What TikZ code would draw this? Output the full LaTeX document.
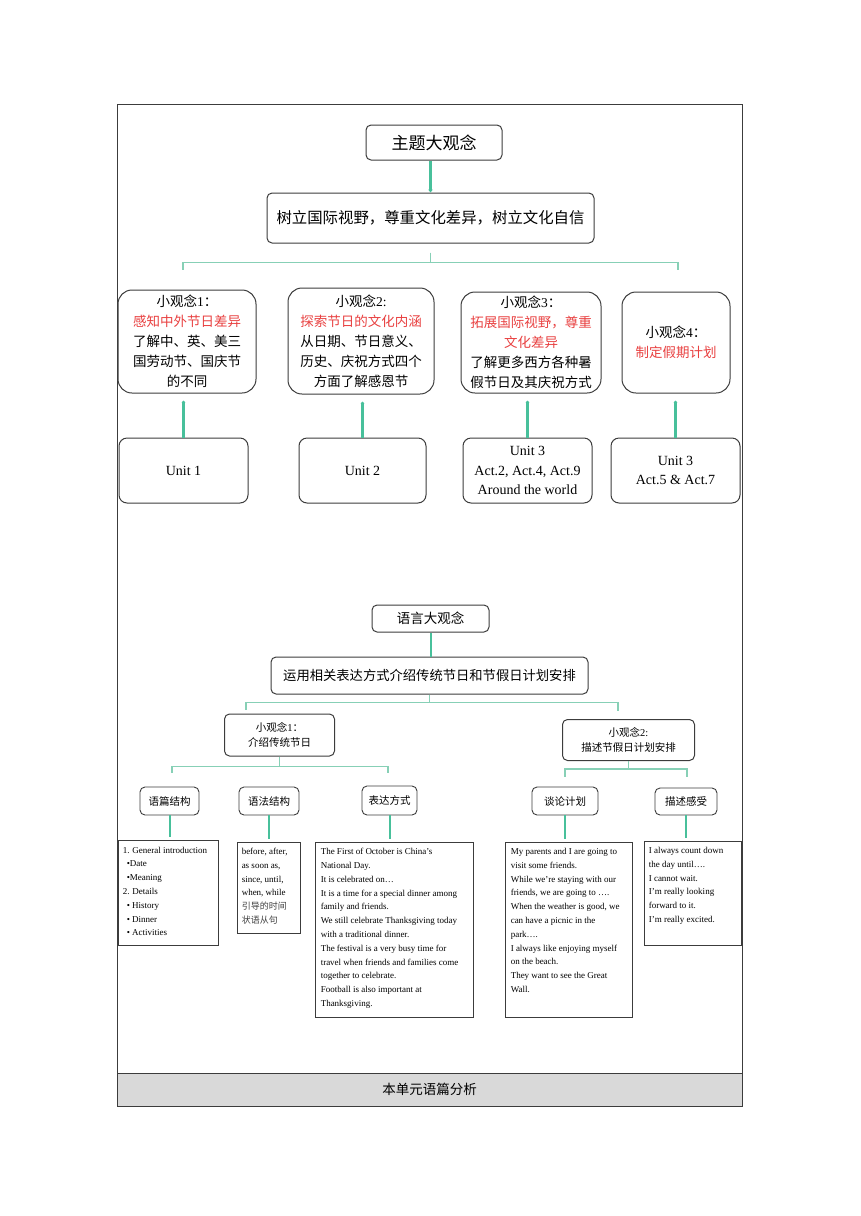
\documentclass[tikz,border=0pt]{standalone}
\usepackage{fontspec}
\setmainfont{Liberation Serif}
\newfontfamily\cjk{Noto Sans CJK SC}
\definecolor{lkgreen}{RGB}{72,192,155}
\definecolor{brgreen}{RGB}{135,208,182}
\definecolor{hlred}{RGB}{232,64,64}
\definecolor{bandgray}{RGB}{217,217,217}
\definecolor{lineblk}{RGB}{60,60,60}
\newcommand{\redtxt}[1]{\textcolor{hlred}{#1}}
\newcommand{\lat}[1]{{\rmfamily #1}}
\usetikzlibrary{arrows.meta,positioning}

\begin{document}
\begin{tikzpicture}[x=1pt,y=-1pt,
  headbox/.style={draw=lineblk, line width=1pt, rounded corners=5pt, align=center, inner sep=0pt},
  ideabox/.style={draw=lineblk, line width=1pt, rounded corners=14pt, align=center, inner sep=0pt, font=\cjk\fontsize{13.5}{20}\selectfont},
  unitbox/.style={draw=lineblk, line width=1pt, rounded corners=8pt, align=center, inner sep=0pt, font=\fontsize{14}{19.5}\selectfont},
  tagbox/.style={draw=lineblk, line width=0.9pt, rounded corners=5pt, align=center, inner sep=0pt, font=\cjk\fontsize{10.5}{14}\selectfont},
  txtbox/.style={draw=lineblk, line width=0.9pt, inner sep=0pt},
  txt/.style={anchor=north west, align=left, inner sep=0pt, font=\fontsize{9}{13.8}\selectfont},
  link/.style={draw=lkgreen, line width=2.2pt},
  brace/.style={draw=brgreen, line width=1.2pt}
]
  \useasboundingbox (0,0) rectangle (860,1216);

  %% frame and caption band
  \draw[lineblk, line width=1pt] (117,104) rectangle (742,1106);
  \node[draw=lineblk, line width=1pt, fill=bandgray, minimum width=625, minimum height=33, inner sep=0pt, font=\cjk\fontsize{13.5}{16}\selectfont] (band) at (429.5,1089.5) {本单元语篇分析};

  %% theme part
  \node[headbox, minimum width=136, minimum height=35, font=\cjk\fontsize{17}{20}\selectfont] (theme) at (434,142.5) {主题大观念};
  \node[headbox, minimum width=327, minimum height=50, font=\cjk\fontsize{15.4}{20}\selectfont] (aim) at (430.5,218) {树立国际视野，尊重文化差异，树立文化自信};
  \draw[link, -{Triangle[length=3pt,width=4.5pt]}] (aim.north |- theme.south) -- (aim.north);

  \node[ideabox, minimum width=138, minimum height=103] (i1) at (187,341.5)
    {小观念\lat{1}：\\ \redtxt{感知中外节日差异}\\ 了解中、英、美三\\ 国劳动节、国庆节\\ 的不同};
  \node[ideabox, minimum width=146, minimum height=106] (i2) at (361,341)
    {小观念\lat{2:}\\ \redtxt{探索节日的文化内涵}\\ 从日期、节日意义、\\ 历史、庆祝方式四个\\ 方面了解感恩节};
  \node[ideabox, minimum width=140, minimum height=101] (i3) at (531,342.5)
    {小观念\lat{3}：\\ \redtxt{拓展国际视野，尊重}\\ \redtxt{文化差异}\\ 了解更多西方各种暑\\ 假节日及其庆祝方式};
  \node[ideabox, minimum width=108, minimum height=101] (i4) at (676,342.5)
    {小观念\lat{4}：\\ \redtxt{制定假期计划}};

  \coordinate (t1) at (183,270);
  \coordinate (t4) at (678,270);
  \draw[brace] ([yshift=-9pt]aim.south) -- ++(0,10) -| (t1);
  \draw[brace] ([yshift=-9pt]aim.south) -- ++(0,10) -| (t4);

  \node[unitbox, minimum width=129, minimum height=65] (u1) at (183.5,470.5) {Unit 1};
  \node[unitbox, minimum width=127, minimum height=65] (u2) at (362.5,470.5) {Unit 2};
  \node[unitbox, minimum width=129, minimum height=65] (u3) at (527.5,470.5) {Unit 3\\ Act.2, Act.4, Act.9\\ Around the world};
  \node[unitbox, minimum width=129, minimum height=65] (u4) at (675.5,470.5) {Unit 3\\ Act.5 \& Act.7};

  \foreach \u/\i in {u1/i1, u2/i2, u3/i3, u4/i4}
    \draw[link, shorten >=7pt, -{Triangle[length=2pt,width=3.5pt]}] (\u.north) -- (\u.north |- \i.south);

  %% language part
  \node[headbox, minimum width=117, minimum height=27, font=\cjk\fontsize{13.5}{16}\selectfont] (lang) at (430.5,618.5) {语言大观念};
  \node[headbox, minimum width=317, minimum height=37, font=\cjk\fontsize{13.3}{16}\selectfont] (use) at (429.5,675.5) {运用相关表达方式介绍传统节日和节假日计划安排};
  \draw[link, line width=2pt] (lang.south) -- (lang.south |- use.north);

  \node[headbox, minimum width=110, minimum height=42, font=\cjk\fontsize{10.5}{15}\selectfont] (pc1) at (279.5,735) {小观念\lat{1}：\\ 介绍传统节日};
  \node[headbox, minimum width=132, minimum height=41, font=\cjk\fontsize{10.5}{15}\selectfont] (pc2) at (628.5,740) {小观念\lat{2:}\\ 描述节假日计划安排};

  \coordinate (l1) at (246,710);
  \coordinate (l2) at (618,711);
  \draw[brace] (use.south) -- ++(0,8) -| (l1);
  \draw[brace] (use.south) -- ++(0,8) -| (l2);

  \coordinate (m1) at (172,773);
  \coordinate (m2) at (388,773);
  \coordinate (n1) at (565,777);
  \coordinate (n2) at (687,777);
  \draw[brace] (pc1.south) -- ++(0,10) -| (m1);
  \draw[brace] (pc1.south) -- ++(0,10) -| (m2);
  \draw[brace] (pc2.south) -- ++(0,8) -| (n1);
  \draw[brace] (pc2.south) -- ++(0,8) -| (n2);

  \node[tagbox, minimum width=59, minimum height=28] (k1) at (169.5,801) {语篇结构};
  \node[tagbox, minimum width=60, minimum height=28] (k2) at (269,801) {语法结构};
  \node[tagbox, minimum width=55, minimum height=29] (k3) at (389.5,800.5) {表达方式};
  \node[tagbox, minimum width=66, minimum height=28] (k4) at (565,801) {谈论计划};
  \node[tagbox, minimum width=62, minimum height=27] (k5) at (686,801.5) {描述感受};

  \node[txtbox, minimum width=100, minimum height=105] (ta) at (168,892.5) {};
  \node[txtbox, minimum width=63, minimum height=91] (tb) at (268.5,887.5) {};
  \node[txtbox, minimum width=158, minimum height=175] (tc) at (394,929.5) {};
  \node[txtbox, minimum width=127, minimum height=175] (td) at (568.5,929.5) {};
  \node[txtbox, minimum width=97, minimum height=104] (te) at (692.5,893) {};

  \foreach \k/\t in {k1/ta, k2/tb, k3/tc, k4/td, k5/te}
    \draw[link, line width=2pt, shorten >=2.5pt] (\k.south) -- (\k.south |- \t.north);

  \node[txt] (ta-txt) at ([shift={(5,7)}]ta.north west)
    {1. General introduction\\ \hspace{4pt}•Date\\ \hspace{4pt}•Meaning\\ 2. Details\\ \hspace{4pt}• History\\ \hspace{4pt}• Dinner\\ \hspace{4pt}• Activities};
  \node[txt] (tb-txt) at ([shift={(5,6.5)}]tb.north west)
    {before, after,\\ as soon as,\\ since, until,\\ when, while\\ {\cjk\color{black!75}引导的时间}\\ {\cjk\color{black!75}状语从句}};
  \node[txt] (tc-txt) at ([shift={(6,6.5)}]tc.north west)
    {The First of October is China’s\\ National Day.\\ It is celebrated on…\\ It is a time for a special dinner among\\ family and friends.\\ We still celebrate Thanksgiving today\\ with a traditional dinner.\\ The festival is a very busy time for\\ travel when friends and families come\\ together to celebrate.\\ Football is also important at\\ Thanksgiving.};
  \node[txt] (td-txt) at ([shift={(6,6.5)}]td.north west)
    {My parents and I are going to\\ visit some friends.\\ While we’re staying with our\\ friends, we are going to ….\\ When the weather is good, we\\ can have a picnic in the\\ park….\\ I always like enjoying myself\\ on the beach.\\ They want to see the Great\\ Wall.};
  \node[txt] (te-txt) at ([shift={(5,6.5)}]te.north west)
    {I always count down\\ the day until….\\ I cannot wait.\\ I’m really looking\\ forward to it.\\ I’m really excited.};
\end{tikzpicture}
\end{document}
